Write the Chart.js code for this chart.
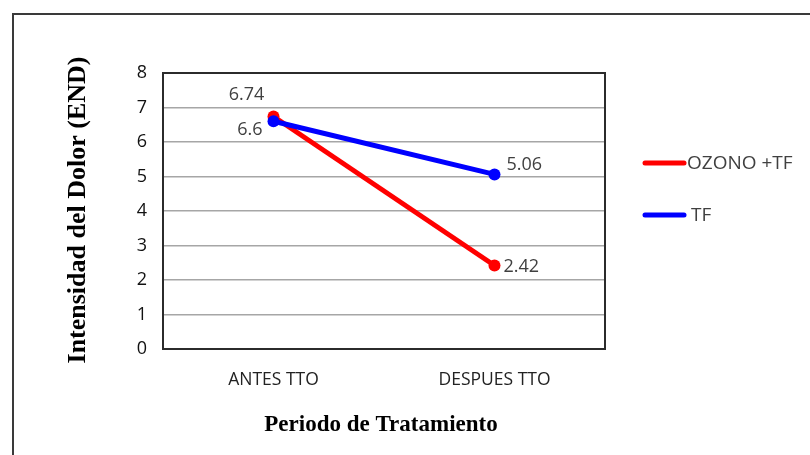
<!DOCTYPE html>
<html>
<head>
<meta charset="utf-8">
<script src="https://cdn.jsdelivr.net/npm/chart.js@4.4.0/dist/chart.umd.min.js"></script>
<style>
  html, body { margin: 0; padding: 0; background: #fff; }
  #wrap { width: 810px; height: 455px; position: relative; }
</style>
</head>
<body>
<div id="wrap"><canvas id="dolorChart" width="810" height="455"></canvas></div>
<script>
const periods = ['ANTES TTO', 'DESPUES TTO'];
const ozonoTf = [6.74, 2.42];
const tfOnly = [6.6, 5.06];
const yTicks = [0, 1, 2, 3, 4, 5, 6, 7, 8];

// label offsets next to each point (px)
const labelOffsets = {
  0: [[-27, -22, 'center'], [9, 1, 'left']],
  1: [[-11, 9, 'right'], [12, -10, 'left']]
};

const extras = {
  id: 'extras',
  beforeDraw(c) {
    const ctx = c.ctx;
    ctx.save();
    ctx.strokeStyle = '#3a3a3a';
    ctx.lineWidth = 2;
    ctx.strokeRect(13, 14, 1000, 1000);
    ctx.restore();
  },
  afterDraw(c) {
    const ctx = c.ctx;
    const a = c.chartArea;
    ctx.save();
    // plot frame
    ctx.strokeStyle = '#2b2b2b';
    ctx.lineWidth = 2;
    ctx.strokeRect(a.left, a.top, a.right - a.left, a.bottom - a.top);

    // value labels
    ctx.font = '18px "Open Sans", sans-serif';
    ctx.fillStyle = '#404040';
    ctx.textBaseline = 'middle';
    c.data.datasets.forEach((ds, di) => {
      const meta = c.getDatasetMeta(di);
      meta.data.forEach((pt, i) => {
        const off = labelOffsets[di][i];
        ctx.textAlign = off[2];
        ctx.fillText(String(ds.data[i]), pt.x + off[0], pt.y + off[1]);
      });
    });

    // legend
    const legendY = [163, 215];
    c.data.datasets.forEach((ds, di) => {
      ctx.strokeStyle = ds.borderColor;
      ctx.lineWidth = 5;
      ctx.lineCap = 'round';
      ctx.beginPath();
      ctx.moveTo(645, legendY[di]);
      ctx.lineTo(684, legendY[di]);
      ctx.stroke();
      ctx.fillStyle = '#404040';
      ctx.font = '19px "Open Sans", sans-serif';
      ctx.textAlign = 'left';
      ctx.fillText(ds.label, di === 0 ? 687 : 691, legendY[di] + 1);
    });

    // axis titles
    ctx.fillStyle = '#000';
    ctx.font = 'bold 23px "Liberation Serif", "Times New Roman", serif';
    ctx.textAlign = 'center';
    ctx.fillText('Periodo de Tratamiento', 381, 425);
    ctx.font = 'bold 26px "Liberation Serif", "Times New Roman", serif';
    ctx.translate(78, 210);
    ctx.rotate(-Math.PI / 2);
    ctx.fillText('Intensidad del Dolor (END)', 0, 0);
    ctx.restore();
  }
};

const ctx = document.getElementById('dolorChart').getContext('2d');
const chart = new Chart(ctx, {
  type: 'line',
  data: {
    labels: periods,
    datasets: [
      {
        label: 'OZONO +TF',
        data: ozonoTf,
        borderColor: '#ff0000',
        backgroundColor: '#ff0000',
        borderWidth: 5,
        pointRadius: 6,
        pointBorderWidth: 0,
        order: 2
      },
      {
        label: 'TF',
        data: tfOnly,
        borderColor: '#0000ff',
        backgroundColor: '#0000ff',
        borderWidth: 5,
        pointRadius: 6,
        pointBorderWidth: 0,
        order: 1
      }
    ]
  },
  options: {
    responsive: false,
    animation: false,
    layout: { padding: { left: 0, top: 73, right: 205, bottom: 0 } },
    plugins: {
      legend: { display: false },
      tooltip: { enabled: false }
    },
    scales: {
      x: {
        offset: true,
        grid: { display: false, drawTicks: false },
        border: { display: false },
        ticks: { color: '#222', padding: 21, font: { family: '"Open Sans", sans-serif', size: 17.5 } },
        afterFit(s) { s.height = 106; }
      },
      y: {
        min: 0,
        max: 8,
        afterBuildTicks(s) { s.ticks = yTicks.map(v => ({ value: v })); },
        grid: { color: '#a6a6a6', lineWidth: 1.5, drawTicks: false },
        border: { display: false },
        ticks: { color: '#111', padding: 16, font: { family: '"Open Sans", sans-serif', size: 18 } },
        afterFit(s) { s.width = 163; }
      }
    }
  },
  plugins: [extras]
});
</script>
</body>
</html>
